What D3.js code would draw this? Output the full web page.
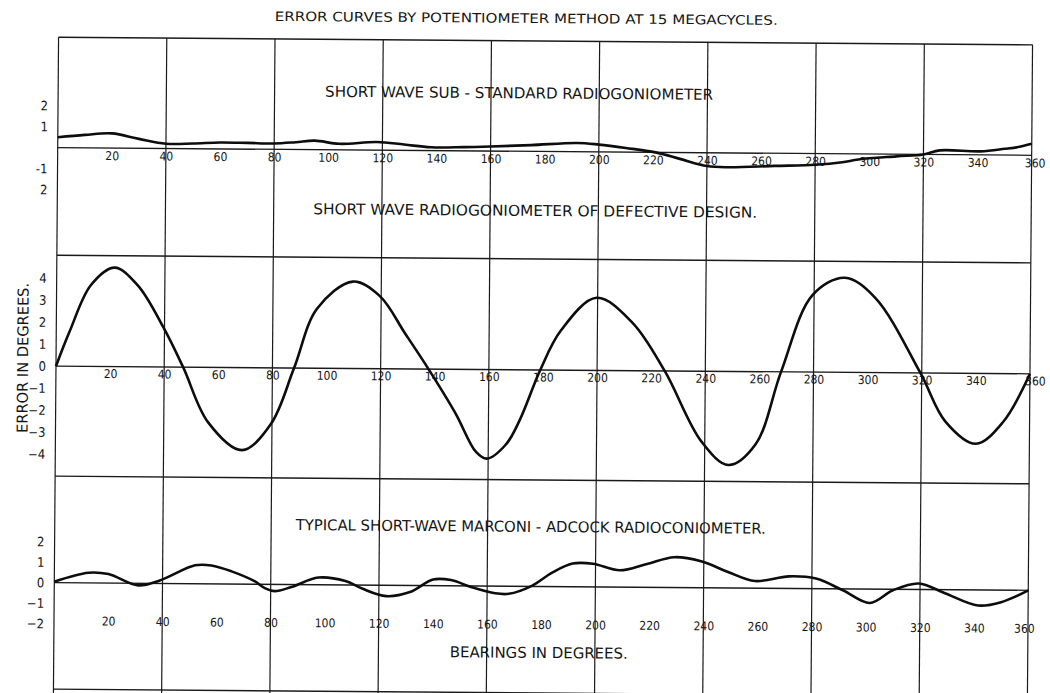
<!DOCTYPE html>
<html>
<head>
<meta charset="utf-8">
<script src="https://cdn.jsdelivr.net/npm/d3@7"></script>
<style>
body { margin: 0; background: #fff; }
text { font-family: "DejaVu Sans Condensed", "Liberation Sans Narrow", "DejaVu Sans", sans-serif; fill: #151515; }
</style>
</head>
<body>
<script>
// bearings in degrees on the x axis, error in degrees on each panel
var bearingTicks = d3.range(20, 361, 20);
var gridBearings = d3.range(0, 361, 40);

var chartTitle = "ERROR CURVES BY POTENTIOMETER METHOD AT 15 MEGACYCLES.";
var xTitle = "BEARINGS IN DEGREES.";
var yTitle = "ERROR IN DEGREES.";

// short wave sub-standard radiogoniometer
var topTitle = "SHORT  WAVE  SUB - STANDARD  RADIOGONIOMETER";
var topBearings = [0, 10, 20, 30, 40, 50, 60, 70, 80, 88, 95, 104, 118, 128, 138, 150, 160, 175, 192, 200, 210, 221, 230, 240, 248, 265, 280, 290, 296, 310, 320, 326, 341, 350, 355, 360];
var topErrors   = [0.5, 0.62, 0.7, 0.45, 0.23, 0.25, 0.31, 0.3, 0.28, 0.35, 0.43, 0.29, 0.39, 0.28, 0.16, 0.18, 0.22, 0.3, 0.42, 0.35, 0.2, 0.0, -0.3, -0.63, -0.68, -0.6, -0.53, -0.4, -0.26, -0.1, 0.0, 0.2, 0.17, 0.3, 0.39, 0.55];
var topTicks = [2, 1, -1, -2];
var topTickLabels = ["2", "1", "-1", "2"];

// short wave radiogoniometer of defective design
var midTitle = "SHORT  WAVE  RADIOGONIOMETER  OF  DEFECTIVE  DESIGN.";
var midBearings = [0, 5, 12.7, 21.4, 30, 39.6, 47, 56.4, 69, 79.6, 88, 96.3, 109.5, 119.5, 129, 137.7, 147.8, 155.5, 159.5, 166.5, 171.5, 179, 186.5, 199.6, 212.8, 225, 238.8, 248.8, 258.8, 268, 279.4, 291.3, 302.6, 319.5, 328.9, 340.2, 350.2, 360];
var midErrors   = [0, 1.6, 3.7, 4.5, 3.7, 1.8, 0, -2.5, -3.75, -2.55, 0, 2.7, 3.95, 3.3, 1.6, 0, -2, -3.75, -4.05, -3.4, -2.3, 0, 1.8, 3.3, 2.2, 0, -3.2, -4.25, -3.3, 0, 3.5, 4.3, 3.4, 0, -2.2, -3.2, -2.2, 0];
var midTicks = [4, 3, 2, 1, 0, -1, -2, -3, -4];

// typical short-wave marconi-adcock radiogoniometer
var lowTitle = "TYPICAL  SHORT-WAVE  MARCONI - ADCOCK  RADIOCONIOMETER.";
var lowBearings = [0, 12.6, 20, 31, 39, 52, 58, 65.5, 74, 78, 81.5, 87.7, 97.6, 107.6, 113.8, 122.7, 131.5, 140, 146.6, 154, 163, 168, 176.5, 184, 191.5, 199, 209, 219, 229, 239, 249, 259, 271.5, 281.5, 291.5, 301.5, 310, 319.5, 329, 341.5, 350, 360];
var lowErrors   = [0.05, 0.5, 0.44, -0.1, 0.15, 0.9, 0.9, 0.62, 0.15, -0.2, -0.33, -0.12, 0.35, 0.19, -0.17, -0.53, -0.32, 0.3, 0.28, -0.05, -0.35, -0.37, 0.03, 0.68, 1.13, 1.13, 0.82, 1.14, 1.48, 1.29, 0.78, 0.35, 0.59, 0.49, -0.07, -0.68, -0.05, 0.29, -0.16, -0.76, -0.59, 0];
var lowTicks = [2, 1, 0, -1, -2];

var W = 1050, H = 693;
var svg = d3.select('body').append('svg')
  .attr('width', W)
  .attr('height', H);
svg.append('rect').attr('width', W).attr('height', H).attr('fill', '#fff');

// the scanned sheet sits a little crooked
var sheet = svg.append('g').attr('transform', 'rotate(0.45,543,366)');

var x = d3.scaleLinear().domain([0, 360]).range([56, 1030]);

var panels = [
  { title: topTitle, titleY: 93.5, titleX0: 323, titleX1: 711, bearings: topBearings, errors: topErrors,
    ticks: topTicks, tickText: function(d, i){ return topTickLabels[i]; }, zero: 151.5, unit: 21, pad: 3.5, endDx: 3 },
  { title: midTitle, titleY: 211, titleX0: 312, titleX1: 756, bearings: midBearings, errors: midErrors,
    ticks: midTicks, tickText: function(d){ return d3.format('d')(d); }, zero: 370, unit: 22, pad: 3, endDx: 5 },
  { title: lowTitle, titleY: 527, titleX0: 297, titleX1: 767, bearings: lowBearings, errors: lowErrors,
    ticks: lowTicks, tickText: function(d){ return d3.format('d')(d); }, zero: 586.5, unit: 20.5, pad: 34, endDx: -4 }
];

// frame and grid
var frameLines = [41, 259, 480, 693];
sheet.selectAll('.frame').data(frameLines).enter().append('line')
  .attr('x1', x(0)).attr('x2', x(360))
  .attr('y1', function(d){ return d; }).attr('y2', function(d){ return d; })
  .attr('stroke', '#1a1a1a').attr('stroke-width', 1.4);

sheet.selectAll('.grid').data(gridBearings).enter().append('line')
  .attr('x1', function(d){ return x(d); }).attr('x2', function(d){ return x(d); })
  .attr('y1', 41).attr('y2', 705)
  .attr('stroke', '#1a1a1a').attr('stroke-width', 1.2);

var line = d3.line().curve(d3.curveCatmullRom.alpha(0.5));

panels.forEach(function(p){
  var y = d3.scaleLinear().domain([-1, 1]).range([p.zero + p.unit, p.zero - p.unit]);

  // zero line
  sheet.append('line')
    .attr('x1', x(0)).attr('x2', x(360))
    .attr('y1', y(0)).attr('y2', y(0))
    .attr('stroke', '#1a1a1a').attr('stroke-width', 1.3);

  var xa = sheet.append('g')
    .attr('transform', 'translate(0,' + y(0) + ')')
    .call(d3.axisBottom(x).tickValues(bearingTicks).tickSize(0).tickPadding(p.pad));
  xa.select('.domain').remove();
  xa.selectAll('text').attr('font-size', 12).attr('fill', '#151515')
    .style('font-family', '"DejaVu Sans Condensed", "Liberation Sans Narrow", sans-serif');
  // hand lettering: the last label sits off the line
  xa.selectAll('.tick').filter(function(d){ return d === 360; }).select('text').attr('dx', p.endDx);

  var ya = sheet.append('g')
    .attr('transform', 'translate(50,0)')
    .call(d3.axisLeft(y).tickValues(p.ticks).tickSize(0).tickPadding(4).tickFormat(p.tickText));
  ya.select('.domain').remove();
  ya.selectAll('text').attr('font-size', 13).attr('fill', '#151515')
    .style('font-family', '"DejaVu Sans Condensed", "Liberation Sans Narrow", sans-serif');

  sheet.append('text')
    .attr('x', p.titleX0).attr('y', p.titleY + 5)
    .attr('font-size', 15)
    .attr('textLength', p.titleX1 - p.titleX0)
    .attr('lengthAdjust', 'spacingAndGlyphs')
    .text(p.title);

  var pts = p.bearings.map(function(b, i){ return [x(b), y(p.errors[i])]; });
  sheet.append('path')
    .attr('d', line(pts))
    .attr('fill', 'none')
    .attr('stroke', '#0d0d0d')
    .attr('stroke-width', 2.6)
    .attr('stroke-linejoin', 'round');
});

sheet.append('text')
  .attr('x', 272).attr('y', 23)
  .attr('font-size', 13)
  .attr('textLength', 503)
  .attr('lengthAdjust', 'spacingAndGlyphs')
  .text(chartTitle);

sheet.append('text')
  .attr('x', 452).attr('y', 658)
  .attr('font-size', 15)
  .attr('textLength', 178)
  .attr('lengthAdjust', 'spacingAndGlyphs')
  .text(xTitle);

sheet.append('text')
  .attr('transform', 'translate(28,437) rotate(-90)')
  .attr('font-size', 15)
  .attr('textLength', 150)
  .attr('lengthAdjust', 'spacingAndGlyphs')
  .text(yTitle);
</script>
</body>
</html>
